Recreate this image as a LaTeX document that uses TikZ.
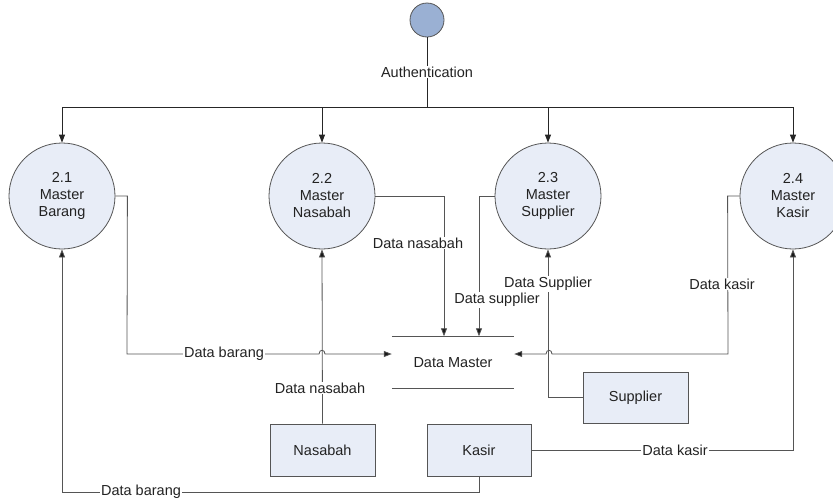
\documentclass[tikz,border=0pt]{standalone}
\usepackage{fontspec}
\setmainfont{Liberation Sans}
\usetikzlibrary{arrows.meta}
\definecolor{procfill}{HTML}{E8EDF7}
\definecolor{authfill}{HTML}{9AB0D3}
\definecolor{edge}{HTML}{555555}
\definecolor{txt}{HTML}{222222}
\tikzset{
  proc/.style={circle, draw=edge, fill=procfill, line width=0.8pt, minimum size=106pt,
    inner sep=0pt, align=center, text=txt, font=\fontsize{14.5}{17}\selectfont},
  entity/.style={rectangle, draw=edge, fill=procfill, line width=0.8pt, minimum width=105pt,
    minimum height=52pt, inner sep=0pt, text=txt, font=\fontsize{14.5}{17}\selectfont},
  flow/.style={draw=edge, line width=0.8pt, -{Triangle[length=8pt,width=6pt,fill=black!90]}},
  wire/.style={draw=edge, line width=0.8pt},
  lbl/.style={fill=white, inner sep=1pt, text=txt, font=\fontsize{14.5}{17}\selectfont},
}
\begin{document}
\begin{tikzpicture}[x=1pt,y=-1pt]
\useasboundingbox (0,0) rectangle (833,501);

% start node and the authentication bus
\node[circle, draw=edge, fill=authfill, line width=0.8pt, minimum size=34pt, inner sep=0pt] (auth) at (427,20) {};
\coordinate (bus) at (427,107);

% processes
\node[proc] (p21) at (62,196) {2.1\\Master\\Barang};
\node[proc] (p22) at (322,196) {2.2\\Master\\Nasabah};
\node[proc] (p23) at (548,196) {2.3\\Master\\Supplier};
\node[proc] (p24) at (793,196) {2.4\\Master\\Kasir};

% data store
\node[minimum width=122pt, minimum height=52pt, inner sep=0pt, text=txt,
      font=\fontsize{14.5}{17}\selectfont] (dm) at (453,362.5) {Data Master};
\draw[wire] (dm.north west) -- (dm.north east);
\draw[wire] (dm.south west) -- (dm.south east);

% external entities
\node[entity] (nas) at (322.5,450) {Nasabah};
\node[entity, minimum width=104pt] (kas) at (479,450) {Kasir};
\node[entity, minimum height=51pt] (sup) at (635.5,397.5) {Supplier};

% authentication distribution
\draw[line width=1pt, draw=black!85] (auth.south) -- (bus);
\draw[line width=1pt, draw=black!85] (p21.north |- bus) -- (p24.north |- bus);
\foreach \p in {p21,p22,p23,p24}
  \draw[line width=1pt, draw=black!85, -{Triangle[length=8pt,width=6pt]}] (\p.north |- bus) -- (\p.north);
\node[lbl] at (427,72) {Authentication};

% flows into the data store
\draw[flow] (p21.east) -- ++(12,0) -- (127,354) -- (319,354)
  .. controls (319,349) and (325,349) .. (325,354) -- ([yshift=8.5pt]dm.west);
\draw[flow] (p22.east) -| ([xshift=-9pt]dm.north);
\draw[flow] (p23.west) -| ([xshift=26pt]dm.north);
\draw[flow] (p24.west) -- ++(-12,0) -- (728,354) -- (552,354)
  .. controls (552,349) and (546,349) .. (546,354) -- ([yshift=8.5pt]dm.east);

% flows from the entities
\draw[flow] (sup.west) -| (p23.south);
\draw[flow] (nas.north) -- (p22.south);
\draw[flow] (kas.east) -| (p24.south);
\draw[flow] (kas.south) -- ++(0,16) -| (p21.south);

% flow labels
\node[lbl] at (224,354) {Data barang};
\node[lbl] at (418,243) {Data nasabah};
\node[lbl] at (497,300) {Data supplier};
\node[lbl] at (548,284) {Data Supplier};
\node[lbl] at (722,284) {Data kasir};
\node[lbl] at (320,388) {Data nasabah};
\node[lbl] at (675,450) {Data kasir};
\node[lbl] at (141,492) {Data barang};
\end{tikzpicture}
\end{document}
